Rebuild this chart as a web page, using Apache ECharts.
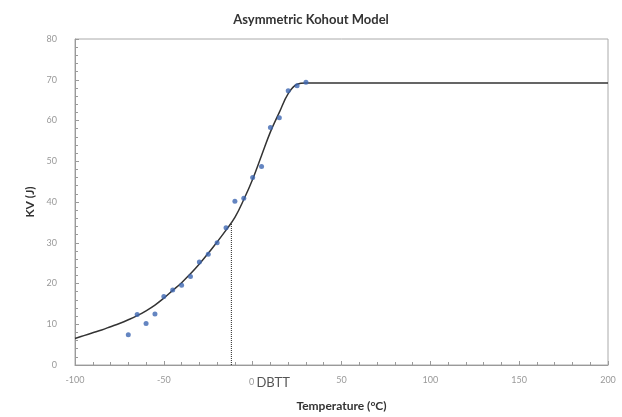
<!DOCTYPE html>
<html><head><meta charset="utf-8">
<script src="https://cdn.jsdelivr.net/npm/echarts@6/dist/echarts.min.js"></script>
<style>html,body{margin:0;padding:0;background:#fff}#c{width:622px;height:417px}</style>
</head><body><div id="c"></div>
<script>
// Measured data points (Temperature °C, KV J)
const pointTemps = [-70,-65,-60,-55,-50,-45,-40,-35,-30,-25,-20,-15,-10,-5,0,5,10,15,20,25,30];
const pointKV    = [7.4,12.4,10.2,12.5,16.8,18.4,19.6,21.7,25.3,27.2,30.0,33.7,40.2,40.9,46.0,48.7,58.3,60.7,67.3,68.5,69.4];
// Fitted curve
const curveTemps = [-100,-95,-90,-85,-80,-75,-70,-65,-60,-55,-50,-45,-40,-35,-30,-25,-20,-15,-10,-5,0,5,10,15,20,25,30,50,100,150,200];
const curveKV    = [6.5,7.2,7.9,8.6,9.4,10.2,11.1,12.1,13.3,14.7,16.4,18.3,20.2,22.4,24.8,27.4,30.2,33.1,36.2,40.6,45.6,51.4,57.2,62.0,66.6,68.9,69.2,69.2,69.2,69.2,69.2];
// DBTT marker
const dbttTemp = -12;
const dbttKV = [0, 34.6];
const xTicks = [-100,-50,0,50,100,150,200];
const yTicks = [0,10,20,30,40,50,60,70,80];

const chart = echarts.init(document.getElementById('c'));
const axisCol = '#9a9a9a';
chart.setOption({
  animation:false,
  backgroundColor:'#fff',
  title:{text:'Asymmetric Kohout Model',left:'center',top:8,
    textStyle:{fontFamily:'Lato',fontWeight:'bold',fontSize:13,color:'#333'}},
  grid:{left:75,right:14,top:39,bottom:52,show:true,borderColor:'#aaa',borderWidth:1},
  xAxis:{type:'value',min:xTicks[0],max:xTicks[xTicks.length-1],interval:50,
    name:'Temperature (°C)',nameLocation:'middle',nameGap:35,
    nameTextStyle:{fontFamily:'Lato',fontWeight:'bold',fontSize:12,color:'#333'},
    axisLine:{onZero:false,lineStyle:{color:axisCol}},
    axisTick:{inside:true,length:4,lineStyle:{color:axisCol}},
    minorTick:{show:true,splitNumber:5,length:3,lineStyle:{color:axisCol}},
    splitLine:{show:false},
    axisLabel:{margin:11,fontSize:9,color:'#999',fontFamily:'Lato',
      formatter:function(v){ if(v===0) return '{h|DBTT}{z|0 }{d|DBTT}'; return String(v); },
      rich:{h:{fontSize:13,color:'transparent',fontFamily:'Lato'},z:{fontSize:9,color:'#999',fontFamily:'Lato'},d:{fontSize:13,color:'#555',fontFamily:'Lato'}}}
  },
  yAxis:{type:'value',min:yTicks[0],max:yTicks[yTicks.length-1],interval:10,
    name:'KV (J)',nameLocation:'middle',nameGap:36,
    nameTextStyle:{fontFamily:'Lato',fontWeight:'bold',fontSize:12,color:'#333'},
    axisLine:{show:true,onZero:false,lineStyle:{color:axisCol}},
    axisTick:{show:true,inside:true,length:4,lineStyle:{color:axisCol}},
    minorTick:{show:true,splitNumber:5,length:3,lineStyle:{color:axisCol}},
    splitLine:{show:false},
    axisLabel:{margin:18,fontSize:9,color:'#999',fontFamily:'Lato'}
  },
  series:[
    {type:'line',data:curveTemps.map((t,i)=>[t,curveKV[i]]),smooth:0.4,
     showSymbol:false,lineStyle:{color:'#333',width:1.5},z:2},
    {type:'line',data:dbttKV.map(k=>[dbttTemp,k]),showSymbol:false,
     lineStyle:{color:'#222',width:1,type:'dotted'},z:1},
    {type:'scatter',data:pointTemps.map((t,i)=>[t,pointKV[i]]),symbolSize:5,
     itemStyle:{color:'#3d67b1'},z:3}
  ]
});
</script></body></html>
